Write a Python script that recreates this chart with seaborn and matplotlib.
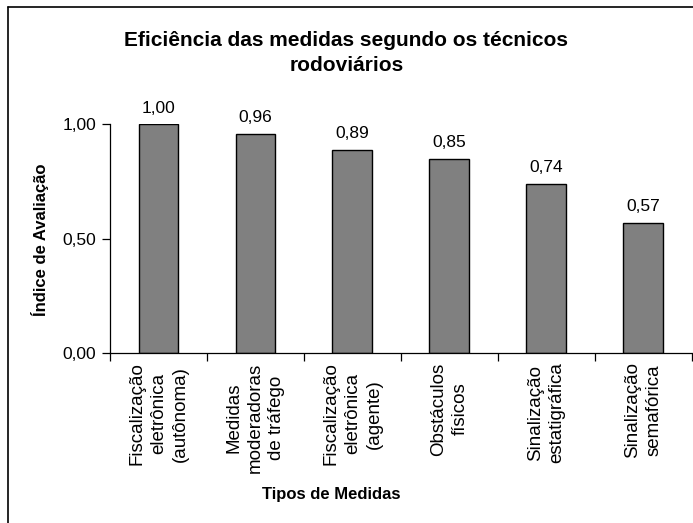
import numpy as np
import seaborn as sns
import matplotlib.pyplot as plt
from matplotlib.lines import Line2D

''' DATA '''
categories = [
    'Fiscalização\neletrônica\n(autônoma)',
    'Medidas\nmoderadoras\nde tráfego',
    'Fiscalização\neletrônica\n(agente)',
    'Obstáculos\nfísicos',
    'Sinalização\nestatigráfica',
    'Sinalização\nsemafórica',
]
values = [1.00, 0.96, 0.89, 0.85, 0.74, 0.57]
value_labels = ['1,00', '0,96', '0,89', '0,85', '0,74', '0,57']
y_ticks = [0.0, 0.5, 1.0]
y_tick_labels = ['0,00', '0,50', '1,00']

''' PLOT '''
sns.set_theme(style='white')
plt.rcParams['font.family'] = ['Liberation Sans', 'DejaVu Sans']
plt.rcParams['text.color'] = 'black'
plt.rcParams['xtick.color'] = 'black'
plt.rcParams['ytick.color'] = 'black'

fig = plt.figure(figsize=(6.93, 5.23), dpi=100)
ax = fig.add_axes([0.1587, 0.3256, 0.998 - 0.1587, 0.762 - 0.3256])

sns.barplot(x=categories, y=values, color='#808080', saturation=1,
            edgecolor='black', linewidth=1, width=0.41, ax=ax)

ax.set_xlim(-0.5, len(categories) - 0.5)
ax.set_ylim(0, 1)

ax.set_yticks(y_ticks)
ax.set_yticklabels(y_tick_labels, fontsize=12.5, color='black')
ax.set_xticks(range(len(categories)))
ax.set_xticklabels(categories, rotation=90, fontsize=13.5, color='black',
                   multialignment='center', linespacing=1.35)
ax.set_xticks(np.arange(-0.5, len(categories), 1), minor=True)

ax.tick_params(axis='x', which='major', length=0, pad=7)
ax.tick_params(axis='x', which='minor', length=6, width=0.9,
               direction='out', color='black', bottom=True)
ax.tick_params(axis='y', length=6, width=0.9, direction='out',
               color='black', left=True, pad=4)

for side in ['top', 'right']:
    ax.spines[side].set_visible(False)
for side in ['left', 'bottom']:
    ax.spines[side].set_color('black')
    ax.spines[side].set_linewidth(0.9)

ax.set_xlabel('')
ax.set_ylabel('')

anns = ax.bar_label(ax.containers[0], labels=value_labels, padding=6,
                    fontsize=12.5, color='black')
for a in anns:
    a.set_annotation_clip(False)

fig.text(0.5, 1 - 53 / 523, 'Eficiência das medidas segundo os técnicos\nrodoviários',
         ha='center', va='center', fontsize=15, fontweight='bold',
         linespacing=1.4, color='black')
fig.text(40 / 693, 1 - 240 / 523, 'Índice de Avaliação', rotation=90,
         ha='center', va='center', fontsize=12, fontweight='bold', color='black')
fig.text(331 / 693, 1 - 494 / 523, 'Tipos de Medidas',
         ha='center', va='center', fontsize=12, fontweight='bold', color='black')

# outer chart-area frame (cropped on the right and bottom)
fig.add_artist(Line2D([8 / 693, 8 / 693], [0, 1 - 7 / 523],
                      transform=fig.transFigure, color='black', lw=1.2))
fig.add_artist(Line2D([8 / 693, 1], [1 - 7 / 523, 1 - 7 / 523],
                      transform=fig.transFigure, color='black', lw=1.2))

fig.savefig('out.png', dpi=100)
